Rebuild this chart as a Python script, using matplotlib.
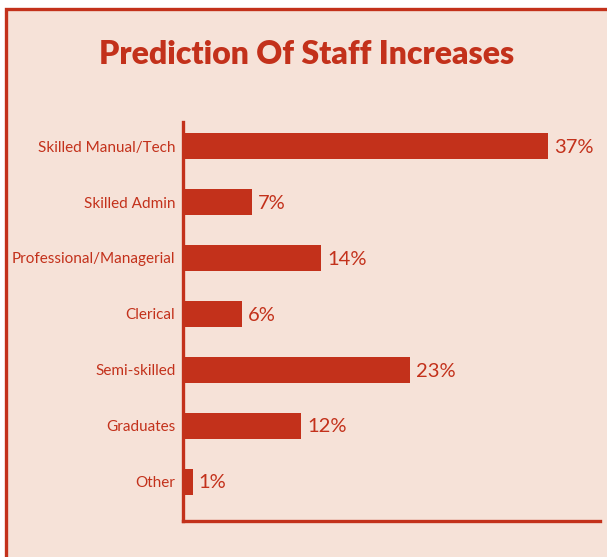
import matplotlib
matplotlib.use("Agg")
import matplotlib.pyplot as plt
from matplotlib.patches import Rectangle

categories = ["Skilled Manual/Tech", "Skilled Admin", "Professional/Managerial",
              "Clerical", "Semi-skilled", "Graduates", "Other"]
values = [37, 7, 14, 6, 23, 12, 1]
title = "Prediction Of Staff Increases"

RED = "#c3311b"
BG = "#f6e2d8"
FONT = ["Lato", "DejaVu Sans"]

W, H = 607, 557
fig = plt.figure(figsize=(W / 100, H / 100), dpi=100, facecolor="white")

# panel background with a border on the top and left
fig.patches.append(Rectangle((5.5 / W, -0.05), 1.1, (H - 9) / H + 0.05,
                             transform=fig.transFigure, facecolor=BG,
                             edgecolor=RED, linewidth=2.4, zorder=-5))

ax = fig.add_axes([183 / W, (H - 521) / H, (600 - 183) / W, (521 - 122) / H])
ax.set_facecolor("none")
ax.set_zorder(2)

y = list(range(len(categories)))
ax.barh(y, values, height=0.47, color=RED, zorder=2)
ax.set_xlim(0, 42.3)
ax.set_ylim(6.7, -0.43)

for yi, v in zip(y, values):
    ax.text(v + 0.6, yi + 0.02, f"{v}%", va="center", ha="left", color=RED,
            fontsize=14.5, family=FONT)

ax.set_yticks(y)
ax.set_yticklabels(categories, family=FONT, fontsize=11, color=RED)
ax.tick_params(axis="y", length=0, pad=5.5)
ax.set_xticks([])

for side in ["top", "right"]:
    ax.spines[side].set_visible(False)
for side in ["left", "bottom"]:
    ax.spines[side].set_color(RED)
    ax.spines[side].set_linewidth(2.4)

fig.text(307 / W, 1 - 54 / H, title, ha="center", va="center", color=RED,
         fontsize=23, fontweight="heavy", family=FONT, zorder=3)

fig.savefig("out.png", dpi=100, facecolor=fig.get_facecolor())
